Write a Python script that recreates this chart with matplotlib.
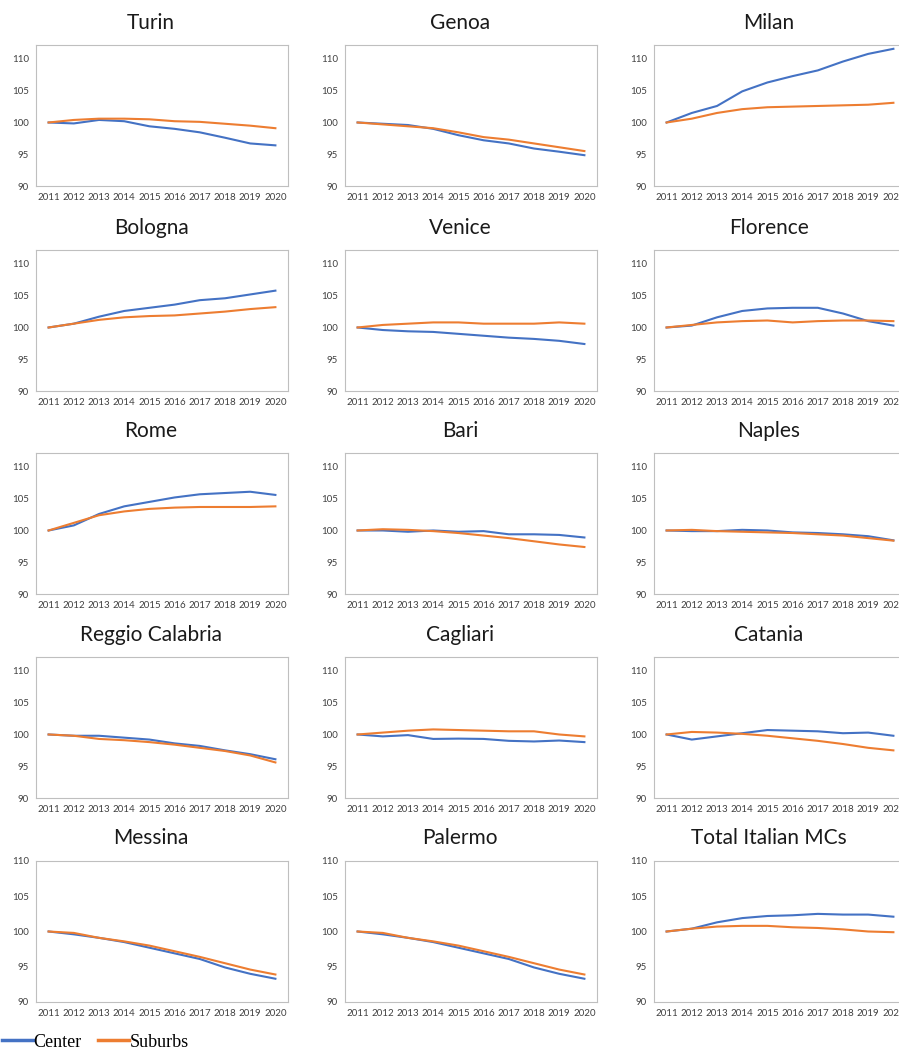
import matplotlib
matplotlib.use('Agg')
import matplotlib.pyplot as plt
from matplotlib.lines import Line2D

# years on the x axis
years = [2011, 2012, 2013, 2014, 2015, 2016, 2017, 2018, 2019, 2020]

cities = ['Turin', 'Genoa', 'Milan',
          'Bologna', 'Venice', 'Florence',
          'Rome', 'Bari', 'Naples',
          'Reggio Calabria', 'Cagliari', 'Catania',
          'Messina', 'Palermo', 'Total Italian MCs']

# index 2011 = 100, center of the city
turin_center = [100, 99.85, 100.4, 100.2, 99.4, 99.0, 98.45, 97.6, 96.7, 96.4]
genoa_center = [100, 99.8, 99.6, 99.0, 98.0, 97.2, 96.7, 95.9, 95.4, 94.85]
milan_center = [100, 101.5, 102.6, 104.9, 106.3, 107.3, 108.2, 109.6, 110.8, 111.6]
bologna_center = [100, 100.6, 101.7, 102.6, 103.1, 103.6, 104.3, 104.6, 105.2, 105.8]
venice_center = [100, 99.6, 99.4, 99.3, 99.0, 98.7, 98.4, 98.2, 97.9, 97.4]
florence_center = [100, 100.3, 101.6, 102.6, 103.0, 103.1, 103.1, 102.2, 101.0, 100.3]
rome_center = [100, 100.8, 102.6, 103.8, 104.5, 105.2, 105.7, 105.9, 106.1, 105.6]
bari_center = [100, 100.0, 99.8, 100.0, 99.8, 99.9, 99.4, 99.4, 99.3, 98.9]
naples_center = [100, 99.9, 99.9, 100.1, 100.0, 99.7, 99.6, 99.4, 99.1, 98.45]
reggio_center = [100, 99.8, 99.8, 99.5, 99.2, 98.6, 98.2, 97.5, 96.9, 96.1]
cagliari_center = [100, 99.7, 99.9, 99.3, 99.35, 99.3, 99.0, 98.9, 99.05, 98.8]
catania_center = [100, 99.2, 99.7, 100.2, 100.7, 100.6, 100.5, 100.2, 100.3, 99.8]
messina_center = [100, 99.6, 99.1, 98.5, 97.7, 96.9, 96.1, 94.9, 94.0, 93.3]
palermo_center = [100, 99.6, 99.1, 98.5, 97.7, 96.9, 96.1, 94.9, 94.0, 93.3]
total_center = [100, 100.4, 101.3, 101.9, 102.2, 102.3, 102.5, 102.4, 102.4, 102.1]

# suburbs
turin_suburbs = [100, 100.4, 100.6, 100.6, 100.5, 100.2, 100.1, 99.8, 99.5, 99.1]
genoa_suburbs = [100, 99.7, 99.4, 99.1, 98.45, 97.7, 97.3, 96.7, 96.1, 95.5]
milan_suburbs = [100, 100.6, 101.5, 102.1, 102.4, 102.5, 102.6, 102.7, 102.8, 103.1]
bologna_suburbs = [100, 100.6, 101.2, 101.6, 101.8, 101.9, 102.2, 102.5, 102.9, 103.2]
venice_suburbs = [100, 100.4, 100.6, 100.8, 100.8, 100.6, 100.6, 100.6, 100.8, 100.6]
florence_suburbs = [100, 100.4, 100.8, 101.0, 101.1, 100.8, 101.0, 101.1, 101.1, 101.0]
rome_suburbs = [100, 101.2, 102.4, 103.0, 103.4, 103.6, 103.7, 103.7, 103.7, 103.8]
bari_suburbs = [100, 100.2, 100.1, 99.9, 99.6, 99.2, 98.8, 98.3, 97.8, 97.4]
naples_suburbs = [100, 100.1, 99.9, 99.8, 99.7, 99.6, 99.4, 99.2, 98.8, 98.4]
reggio_suburbs = [100, 99.8, 99.3, 99.1, 98.8, 98.4, 97.9, 97.4, 96.7, 95.6]
cagliari_suburbs = [100, 100.3, 100.6, 100.8, 100.7, 100.6, 100.5, 100.5, 100.0, 99.7]
catania_suburbs = [100, 100.4, 100.3, 100.1, 99.8, 99.4, 99.0, 98.5, 97.9, 97.5]
messina_suburbs = [100, 99.8, 99.1, 98.6, 98.0, 97.2, 96.4, 95.5, 94.6, 93.9]
palermo_suburbs = [100, 99.8, 99.1, 98.6, 98.0, 97.2, 96.4, 95.5, 94.6, 93.9]
total_suburbs = [100, 100.4, 100.7, 100.8, 100.8, 100.6, 100.5, 100.3, 100.0, 99.9]

center = [turin_center, genoa_center, milan_center, bologna_center, venice_center,
          florence_center, rome_center, bari_center, naples_center, reggio_center,
          cagliari_center, catania_center, messina_center, palermo_center, total_center]
suburbs = [turin_suburbs, genoa_suburbs, milan_suburbs, bologna_suburbs, venice_suburbs,
           florence_suburbs, rome_suburbs, bari_suburbs, naples_suburbs, reggio_suburbs,
           cagliari_suburbs, catania_suburbs, messina_suburbs, palermo_suburbs, total_suburbs]

W, H = 899, 1048
fig = plt.figure(figsize=(W / 100, H / 100), dpi=100)

col_left = [36, 345, 654]
row_top = [45, 250, 453, 657, 861]
title_y = [23, 228, 431, 635, 838]
ax_w, ax_h = 252, 141

blue = '#4472C4'
orange = '#ED7D31'

for i, name in enumerate(cities):
    r, c = divmod(i, 3)
    ax = fig.add_axes([col_left[c] / W, 1 - (row_top[r] + ax_h) / H, ax_w / W, ax_h / H])
    ax.plot(years, center[i], color=blue, lw=1.5)
    ax.plot(years, suburbs[i], color=orange, lw=1.5)
    ax.set_xlim(2010.5, 2020.5)
    # last row has no headroom above 110
    ax.set_ylim(90, 110 if r == 4 else 112.2)
    ax.set_xticks(years)
    ax.set_yticks([90, 95, 100, 105, 110])
    ax.tick_params(length=0, labelsize=7, labelcolor='#404040', pad=5)
    for lab in ax.get_xticklabels() + ax.get_yticklabels():
        lab.set_family('Lato')
    for s in ax.spines.values():
        s.set_color('#BFBFBF')
        s.set_linewidth(0.8)
    fig.text((col_left[c] + ax_w / 2 - 11) / W, 1 - title_y[r] / H, name,
             ha='center', va='center', fontsize=15, family='Lato', color='#1a1a1a')

handles = [Line2D([], [], color=blue, lw=2.5), Line2D([], [], color=orange, lw=2.5)]
fig.legend(handles, ['Center', 'Suburbs'], loc='lower left', bbox_to_anchor=(-0.016, -0.018), ncol=2,
           frameon=False, handlelength=1.7, handletextpad=0.05, columnspacing=0.9,
           prop={'family': 'Liberation Serif', 'size': 13})

fig.savefig('out.png', dpi=100)
